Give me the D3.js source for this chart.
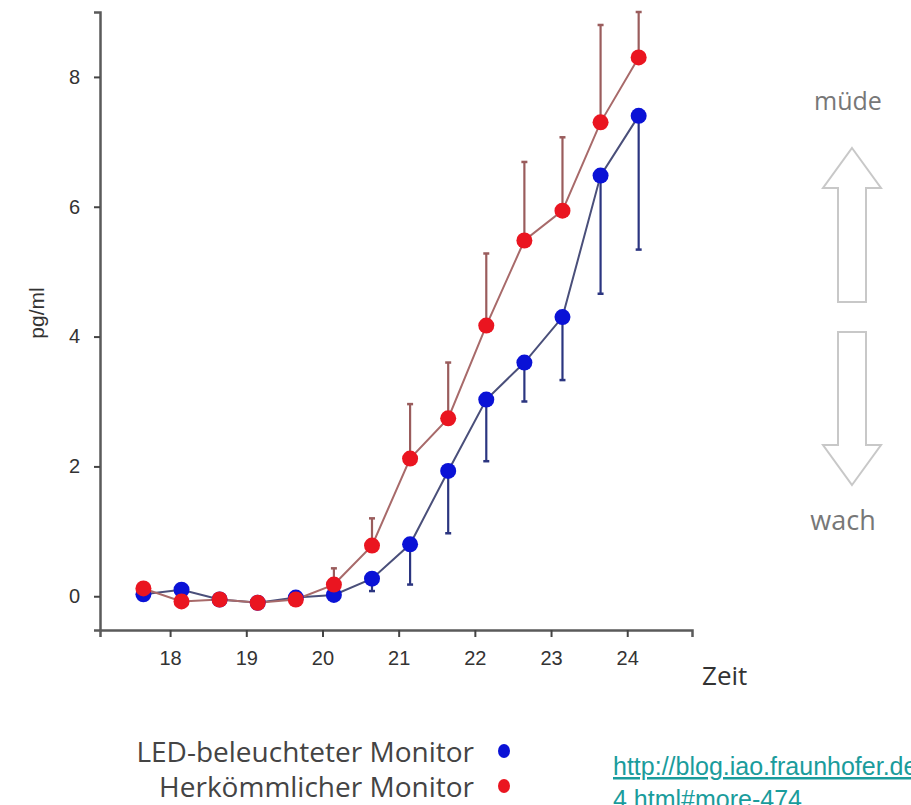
<!DOCTYPE html>
<html>
<head>
<meta charset="utf-8">
<script src="https://cdn.jsdelivr.net/npm/d3@7"></script>
<style>
  body { margin: 0; background: #fff; overflow: hidden; }
  svg { display: block; }
</style>
</head>
<body>
<svg id="chart" width="911" height="805"></svg>
<script>
(() => {
  // Messzeitpunkte (Uhrzeit in Stunden)
  const times = [17.65, 18.15, 18.65, 19.15, 19.65, 20.15, 20.65, 21.15, 21.65, 22.15, 22.65, 23.15, 23.65, 24.15]
  // LED-beleuchteter Monitor (blau): Mittelwert und Fehler nach unten
  const ledMean = [0.03, 0.1, -0.05, -0.1, -0.02, 0.02, 0.27, 0.8, 1.93, 3.03, 3.6, 4.3, 6.48, 7.4]
  const ledLow = [null, null, null, null, null, null, 0.08, 0.18, 0.97, 2.08, 3.0, 3.33, 4.66, 5.34]
  // Herkömmlicher Monitor (rot): Mittelwert und Fehler nach oben
  const oldMean = [0.12, -0.08, -0.05, -0.1, -0.05, 0.18, 0.78, 2.12, 2.74, 4.17, 5.48, 5.94, 7.3, 8.3]
  const oldHigh = [null, null, null, null, null, 0.43, 1.2, 2.96, 3.6, 5.28, 6.69, 7.07, 8.8, 9.0]
  const xTicks = [18, 19, 20, 21, 22, 23, 24]
  const yTicks = [0, 2, 4, 6, 8]

  const svg = d3.select('#chart')

  const x = d3.scaleLinear().domain([17.08, 24.85]).range([100, 692])
  const y = d3.scaleLinear().domain([-0.52, 9.0]).range([630, 12])

  const axisColor = '#5a5a5a'

  const gy = svg.append('g')
    .attr('transform', 'translate(100,0)')
    .call(d3.axisLeft(y).tickValues(yTicks).tickSizeOuter(0).tickSize(6).tickPadding(14))
  const gx = svg.append('g')
    .attr('transform', 'translate(0,630)')
    .call(d3.axisBottom(x).tickValues(xTicks).tickSizeOuter(0).tickSize(7).tickPadding(14))

  for (const g of [gx, gy]) {
    g.select('.domain').attr('stroke', axisColor).attr('stroke-width', 2.5)
    g.selectAll('.tick line').attr('stroke', '#444').attr('stroke-width', 2)
    g.selectAll('.tick text')
      .attr('fill', '#333')
      .style('font', '20px "Liberation Sans", Arial, sans-serif')
  }

  svg.append('text')
    .attr('transform', 'translate(44,313) rotate(-90)')
    .attr('text-anchor', 'middle')
    .attr('fill', '#333')
    .style('font', '21px "Liberation Sans", Arial, sans-serif')
    .text('pg/ml')

  svg.append('text')
    .attr('x', 702).attr('y', 685)
    .attr('fill', '#333')
    .style('font', '26px "Open Sans", sans-serif')
    .text('Zeit')

  const series = [
    { name: 'LED-beleuchteter Monitor', mean: ledMean, err: ledLow, line: '#4a4f7a', bar: '#2b3580', dot: '#0a12d6' },
    { name: 'Herkömmlicher Monitor', mean: oldMean, err: oldHigh, line: '#a86a6a', bar: '#9a5c5c', dot: '#ea1520' }
  ]

  const line = d3.line().x((d, i) => x(times[i])).y(d => y(d))

  // Fehlerbalken
  for (const s of series) {
    const g = svg.append('g')
    const data = s.mean.map((m, i) => ({ t: times[i], m, e: s.err[i] })).filter(d => d.e != null)
    g.selectAll('line.bar').data(data).join('line')
      .attr('x1', d => x(d.t)).attr('x2', d => x(d.t))
      .attr('y1', d => y(d.m)).attr('y2', d => y(d.e))
      .attr('stroke', s.bar).attr('stroke-width', 2.2)
    g.selectAll('line.cap').data(data).join('line')
      .attr('x1', d => x(d.t) - 3).attr('x2', d => x(d.t) + 3)
      .attr('y1', d => y(d.e)).attr('y2', d => y(d.e))
      .attr('stroke', s.bar).attr('stroke-width', 2.5)
  }

  // Linien
  for (const s of series) {
    svg.append('path')
      .attr('d', line(s.mean))
      .attr('fill', 'none')
      .attr('stroke', s.line)
      .attr('stroke-width', 2)
  }

  // Punkte
  for (const s of series) {
    svg.append('g').selectAll('circle').data(s.mean).join('circle')
      .attr('cx', (d, i) => x(times[i]))
      .attr('cy', d => y(d))
      .attr('r', 8)
      .attr('fill', s.dot)
  }

  // Pfeile rechts
  const arrowColor = '#c8c8c8'
  const ax = 852
  svg.append('path')
    .attr('d', `M${ax},148 L${ax + 29},188 L${ax + 14},188 L${ax + 14},302 L${ax - 14},302 L${ax - 14},188 L${ax - 29},188 Z`)
    .attr('fill', 'none').attr('stroke', arrowColor).attr('stroke-width', 2)
  svg.append('path')
    .attr('d', `M${ax},485 L${ax + 29},445 L${ax + 14},445 L${ax + 14},332 L${ax - 14},332 L${ax - 14},445 L${ax - 29},445 Z`)
    .attr('fill', 'none').attr('stroke', arrowColor).attr('stroke-width', 2)

  svg.append('text')
    .attr('x', 848).attr('y', 110)
    .attr('text-anchor', 'middle')
    .attr('fill', '#777')
    .style('font', '25px "Open Sans", sans-serif')
    .text('müde')
  svg.append('text')
    .attr('x', 843).attr('y', 530)
    .attr('text-anchor', 'middle')
    .attr('fill', '#777')
    .style('font', '27px "Open Sans", sans-serif')
    .text('wach')

  // Legende
  const legend = svg.append('g')
  legend.selectAll('text').data(series).join('text')
    .attr('x', 474)
    .attr('y', (d, i) => 762 + i * 35)
    .attr('text-anchor', 'end')
    .attr('fill', '#444')
    .style('font', '28px "Open Sans", sans-serif')
    .text(d => d.name)
  legend.selectAll('ellipse').data(series).join('ellipse')
    .attr('cx', 504)
    .attr('cy', (d, i) => 751 + i * 35)
    .attr('rx', 6).attr('ry', 7)
    .attr('fill', d => d.dot)

  // Quelle
  const src = svg.append('g')
    .attr('fill', '#1a9c9c')
    .style('font', '25px "Liberation Sans", Arial, sans-serif')
    .style('text-decoration', 'underline')
  src.append('text').attr('x', 613).attr('y', 775).text('http://blog.iao.fraunhofer.de/')
  src.append('text').attr('x', 613).attr('y', 808).text('4.html#more-474')
})()
</script>
</body>
</html>
